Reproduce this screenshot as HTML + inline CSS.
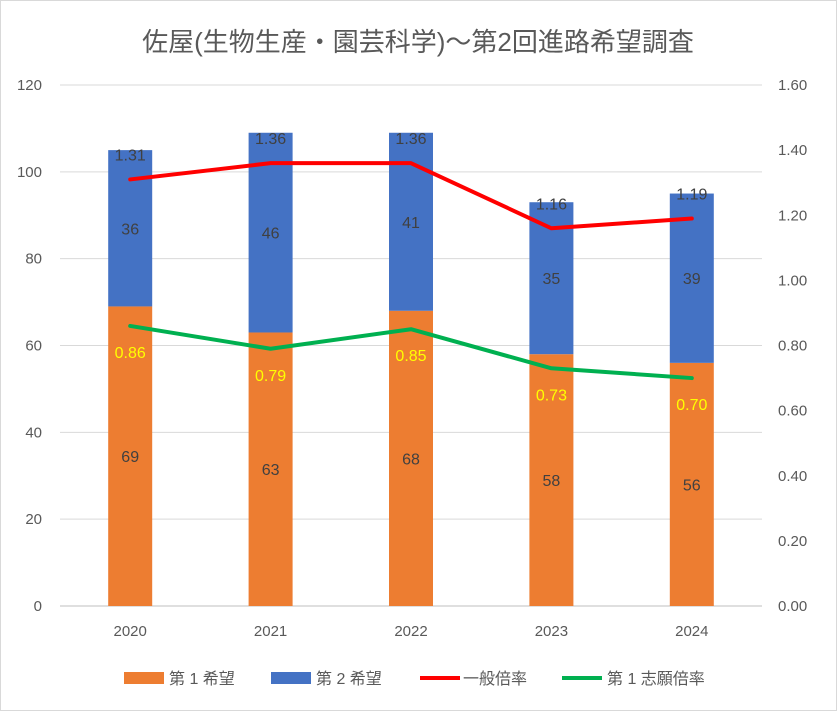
<!DOCTYPE html>
<html><head><meta charset="utf-8"><style>
body{margin:0;background:#fff;}
svg{display:block;font-family:"Liberation Sans","Noto Sans CJK JP",sans-serif;}
</style></head><body>
<svg id="c" width="837" height="711">
<rect x="0.5" y="0.5" width="836" height="710" fill="#fff" stroke="#d9d9d9"/>
<text x="418" y="51" text-anchor="middle" font-size="26" fill="#595959">佐屋(生物生産・園芸科学)～第2回進路希望調査</text>
<g id="grid"></g><g id="bars"></g><g id="lines"></g><g id="axes"></g>
<g font-size="16" fill="#595959">
<rect x="124" y="672" width="40" height="12" fill="#ED7D31"/>
<text x="169" y="684">第 1 希望</text>
<rect x="271" y="672" width="40" height="12" fill="#4472C4"/>
<text x="316" y="684">第 2 希望</text>
<line x1="420" y1="678" x2="460" y2="678" stroke="#FF0000" stroke-width="4"/>
<text x="463" y="684">一般倍率</text>
<line x1="562" y1="678" x2="602" y2="678" stroke="#00B050" stroke-width="4"/>
<text x="607" y="684">第 1 志願倍率</text>
</g>
</svg>
<script>
const categories=["2020","2021","2022","2023","2024"];
const firstChoice=[69,63,68,58,56];
const secondChoice=[36,46,41,35,39];
const generalRatio=[1.31,1.36,1.36,1.16,1.19];
const firstRatio=[0.86,0.79,0.85,0.73,0.70];
const leftTicks=[0,20,40,60,80,100,120];
const rightTicks=["0.00","0.20","0.40","0.60","0.80","1.00","1.20","1.40","1.60"];
const NS="http://www.w3.org/2000/svg";
const x0=60,x1=762,yb=606,yt=85;
const yL=v=>yb-v/120*(yb-yt);
const yR=v=>yb-v/1.6*(yb-yt);
const bw=(x1-x0)/categories.length;
const xc=i=>x0+bw*(i+0.5);
function mk(p,t,a){const e=document.createElementNS(NS,t);for(const k in a)e.setAttribute(k,a[k]);p.appendChild(e);return e;}
const G=document.getElementById('grid'),B=document.getElementById('bars'),L=document.getElementById('lines'),A=document.getElementById('axes');
leftTicks.forEach(v=>{
 const l=mk(G,'line',{x1:x0,x2:x1,y1:yL(v),y2:yL(v),stroke:v===0?'#bfbfbf':'#d9d9d9','stroke-width':1});
 
 
 const t=mk(A,'text',{x:42,y:yL(v)+5,'text-anchor':'end','font-size':15,fill:'#595959'});t.textContent=v;
 
 
});
rightTicks.forEach(s=>{
 const t=mk(A,'text',{x:778,y:yR(+s)+5,'font-size':15,fill:'#595959'});t.textContent=s;
 
 
});
categories.forEach((c,i)=>{
 const t=mk(A,'text',{x:xc(i),y:636,'text-anchor':'middle','font-size':15,fill:'#595959'});t.textContent=c;
 
 
 const w=44,x=xc(i)-w/2;
 const r1=mk(B,'rect',{x:x,y:yL(firstChoice[i]),width:w,height:yb-yL(firstChoice[i]),fill:'#ED7D31'});
 
 
 const tot=firstChoice[i]+secondChoice[i];
 const r2=mk(B,'rect',{x:x,y:yL(tot),width:w,height:yL(firstChoice[i])-yL(tot),fill:'#4472C4'});
 
 
 const t1=mk(B,'text',{x:xc(i),y:(yb+yL(firstChoice[i]))/2+6,'text-anchor':'middle','font-size':16,fill:'#404040'});t1.textContent=firstChoice[i];
 
 
 const t2=mk(B,'text',{x:xc(i),y:(yL(tot)+yL(firstChoice[i]))/2+6,'text-anchor':'middle','font-size':16,fill:'#404040'});t2.textContent=secondChoice[i];
 
 
});
function line(vals,color,name,dy,lc){
 const p=mk(L,'polyline',{points:vals.map((v,i)=>xc(i)+','+yR(v)).join(' '),fill:'none',stroke:color,'stroke-width':4,'stroke-linejoin':'round','stroke-linecap':'round'});
 
 
 vals.forEach((v,i)=>{
  const t=mk(L,'text',{x:xc(i),y:yR(v)+dy,'text-anchor':'middle','font-size':16,fill:lc});t.textContent=v.toFixed(2);
  
  
 });
}
line(generalRatio,'#FF0000','line-general-ratio',-19,'#404040');
line(firstRatio,'#00B050','line-first-ratio',32,'#FFFF00');
</script>
</body></html>
